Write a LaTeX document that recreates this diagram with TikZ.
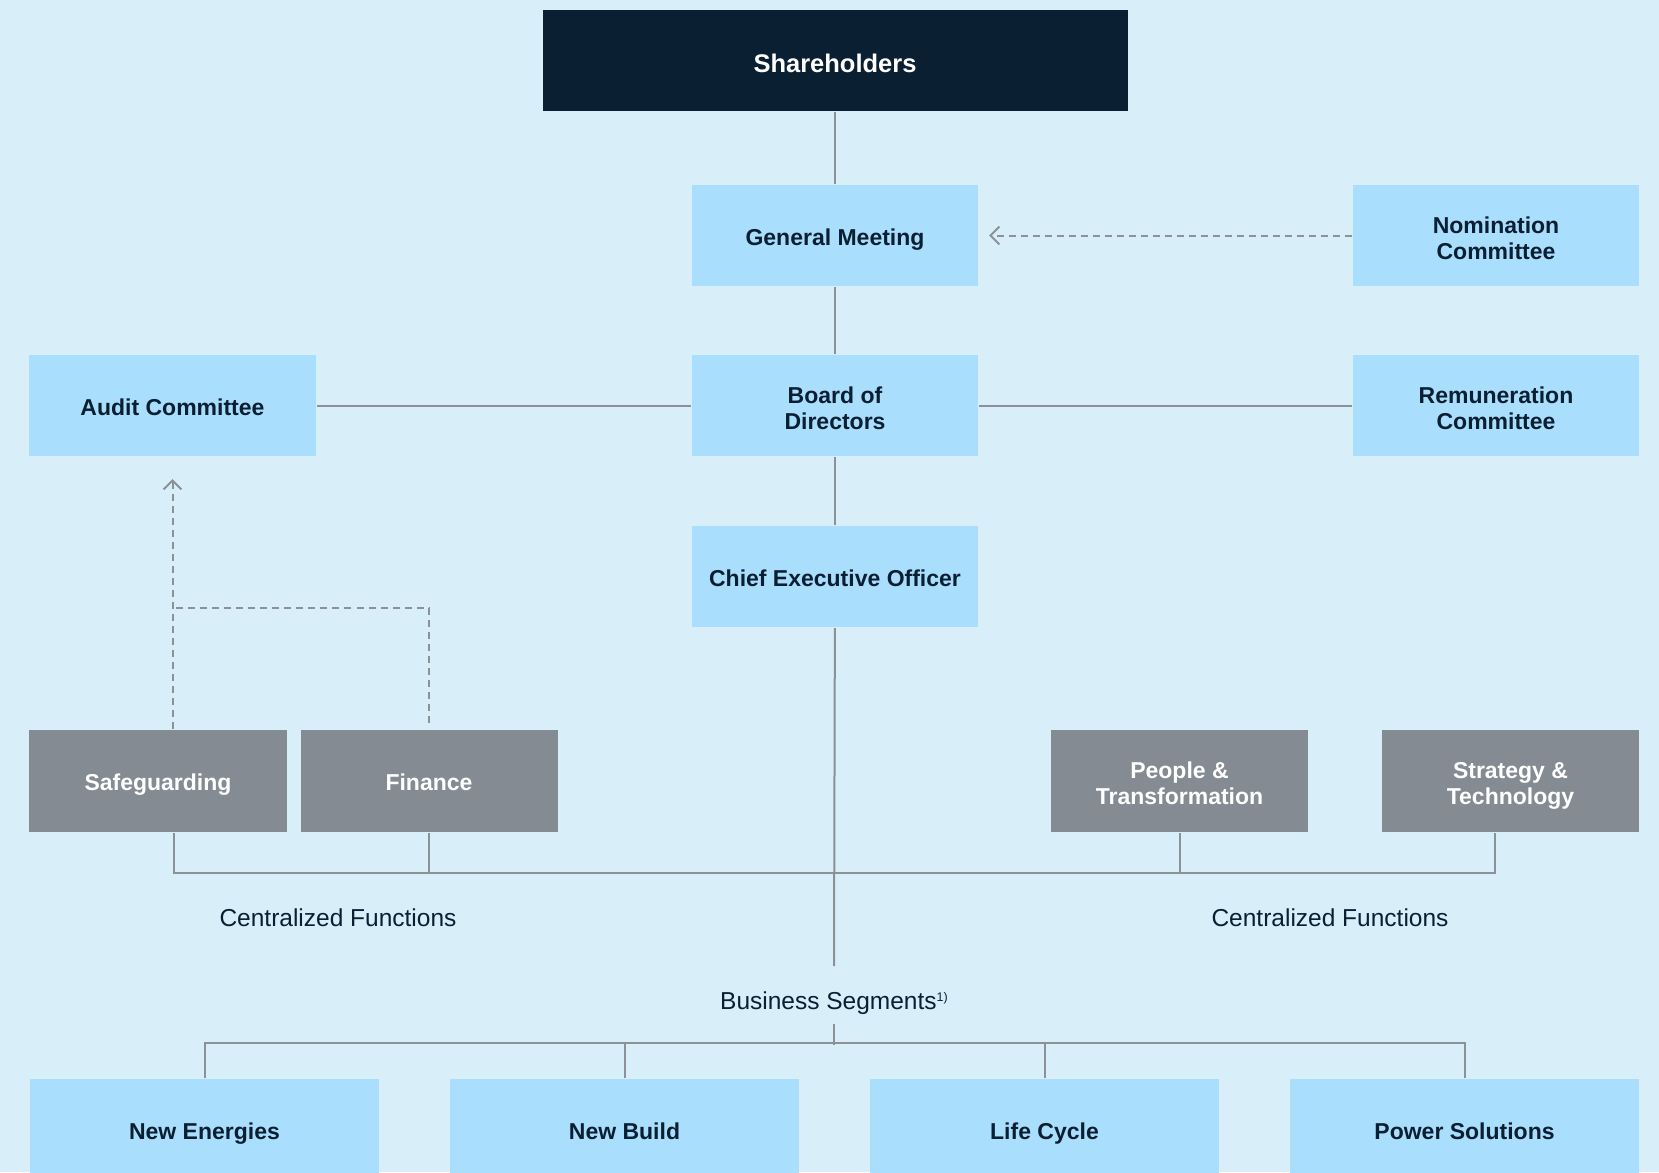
\documentclass[tikz,border=0pt]{standalone}
\usepackage{fontspec}
\setmainfont{Liberation Sans}
\usetikzlibrary{arrows.meta}

\definecolor{bgblue}{HTML}{D8EFF9}
\definecolor{boxblue}{HTML}{A9DFFC}
\definecolor{navy}{HTML}{0B1F33}
\definecolor{fngrey}{HTML}{848B92}
\definecolor{linegrey}{HTML}{8B9197}

\newcommand\boxstrut{\rule[-6bp]{0pt}{32bp}}
\newcommand\topline{\rule{0pt}{28bp}}
\newcommand\tightlines{\lineskiplimit=-50bp\relax}

\tikzset{
  box/.style={fill=boxblue, text=navy, font=\fontsize{23bp}{26bp}\selectfont\bfseries,
    minimum width=286bp, minimum height=101bp, align=center, inner sep=0,
    execute at begin node=\tightlines\boxstrut, execute at end node=\boxstrut},
  fnbox/.style={box, fill=fngrey, text=white, minimum width=257bp, minimum height=102bp},
  segbox/.style={box, minimum width=349bp},
  lbl/.style={text=navy, font=\fontsize{24.5bp}{28bp}\selectfont, inner sep=0,
    text height=18bp, text depth=5bp},
  dsh/.style={dash pattern=on 7bp off 5bp}
}

\begin{document}
\begin{tikzpicture}[x=1bp, y=-1bp, >={Straight Barb[length=9bp,width=18bp]}, line width=2bp, color=linegrey]

\clip (0,0) rectangle (1659,1172);
\fill[bgblue] (0,0) rectangle (1659,1172);

% governance
\node[box, fill=navy, text=white, minimum width=585bp, font=\fontsize{25.5bp}{28bp}\selectfont\bfseries] (sh) at (835,60.5) {\rule{0pt}{30bp}Shareholders};
\node[box] (gm) at (835,235.5) {General Meeting};
\node[box] (nc) at (1496,235.5) {\topline Nomination\\Committee};
\node[box] (ac) at (172.5,405.5) {Audit Committee};
\node[box] (bd) at (835,405.5) {\topline Board of\\Directors};
\node[box] (rc) at (1496,405.5) {\topline Remuneration\\Committee};
\node[box] (ceo) at (835,576.5) {Chief Executive Officer};

% centralized functions
\node[fnbox] (sg) at (158,780.5) {Safeguarding};
\node[fnbox] (fi) at (429,780.5) {Finance};
\node[fnbox] (pt) at (1179.5,780.5) {\topline People \&\\Transformation};
\node[fnbox] (st) at (1510.5,780.5) {\topline Strategy \&\\Technology};

\node[lbl] (cfl) at (338,919.5) {Centralized Functions};
\node[lbl] (cfr) at (1330,919.5) {Centralized Functions};
\node[lbl] (bs) at (834,1002.5) {Business Segments\raisebox{7.5bp}{\fontsize{12.5bp}{12.5bp}\selectfont 1)}};

% segments
\foreach \n/\x/\t in {ne/204.5/New Energies, nb/624.5/New Build, lc/1044.5/Life Cycle, ps/1464.5/Power Solutions}
{
   \node[segbox] (\n) at (\x,1129.5) {\t};
}

\draw (sh)--(gm) (gm)--(bd) (bd)--(ceo) (ac)--(bd)--(rc);
\draw[dsh,->,shorten >=10bp] (nc)--(gm);
\draw[dsh,->] (sg.north-|ac.south)--([yshift=-22bp]ac.south);
\draw[dsh] ([yshift=6bp]fi.north)|-([yshift=-151bp]ac.south);

\draw ([xshift=15.5bp]sg.south)--++(0,40)-|([xshift=-15.5bp]st.south);
\foreach \n in {fi,pt}
{
   \draw (\n.south)--++(0,40);
}
\draw (ceo)--([yshift=24bp]bs.north);
\draw ([yshift=-9bp]bs.south)--++(0,21);
\draw (ne.north)--++(0,-35)-|(ps.north);
\foreach \n in {nb,lc}
{
   \draw (\n.north)--++(0,-35);
}

\end{tikzpicture}
\end{document}
